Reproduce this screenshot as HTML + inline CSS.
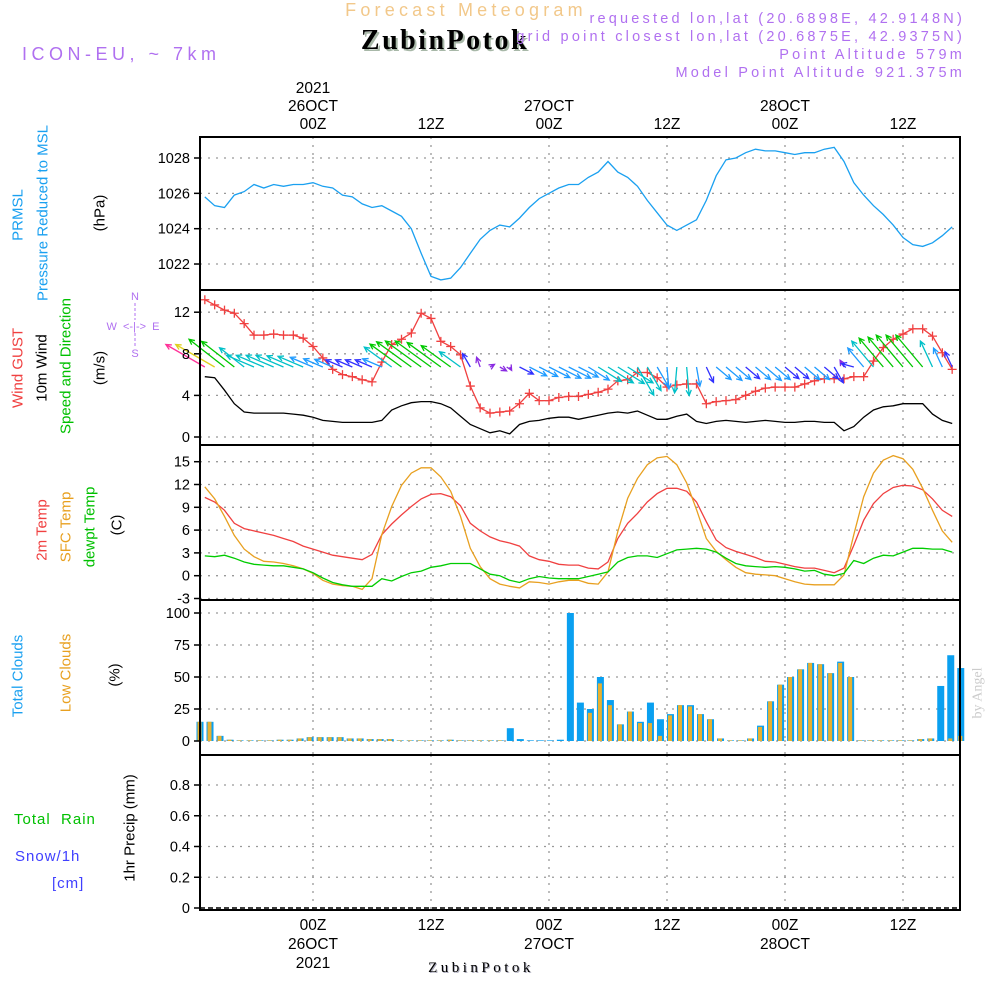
<!DOCTYPE html>
<html><head><meta charset="utf-8">
<style>
html,body{margin:0;padding:0;background:#fff;}
svg{display:block;font-family:"Liberation Sans",sans-serif;}
</style></head>
<body>
<svg id="chart" width="1000" height="1000" viewBox="0 0 1000 1000" xmlns="http://www.w3.org/2000/svg">
<rect x="0" y="0" width="1000" height="1000" fill="#fff"/>
<g>
<text x="466" y="16" text-anchor="middle" font-size="18" fill="#f2c88a" letter-spacing="4.2">Forecast Meteogram</text>
<text x="447" y="51" text-anchor="middle" font-family="Liberation Serif,serif" font-weight="bold" font-size="28" fill="#a8b8a8" letter-spacing="2.5">ZubinPotok</text>
<text x="445" y="49" text-anchor="middle" font-family="Liberation Serif,serif" font-weight="bold" font-size="28" fill="#000" letter-spacing="2.5">ZubinPotok</text>
<text x="22" y="60" font-size="18" fill="#b070f0" letter-spacing="4.5">ICON-EU, ~ 7km</text>
<text x="965" y="23" text-anchor="end" font-size="14.5" fill="#b070f0" letter-spacing="3.2">requested lon,lat (20.6898E, 42.9148N)</text>
<text x="965" y="41" text-anchor="end" font-size="14.5" fill="#b070f0" letter-spacing="3.2">grid point closest lon,lat (20.6875E, 42.9375N)</text>
<text x="965" y="59" text-anchor="end" font-size="14.5" fill="#b070f0" letter-spacing="3.2">Point Altitude 579m</text>
<text x="965" y="77" text-anchor="end" font-size="14.5" fill="#b070f0" letter-spacing="3.2">Model Point Altitude 921.375m</text>
</g>
<g id="grid"></g>
<g id="marks"></g>
<g id="frames"></g>
<g id="labels"></g>
</svg>
<script>
// ---- data (hourly, hour = -11 .. 65 relative to 26OCT 00Z) ----
const hourStart = -11;
const pressure = [1025.8,1025.3,1025.2,1025.9,1026.1,1026.5,1026.3,1026.5,1026.4,1026.5,1026.5,1026.6,1026.4,1026.3,1025.9,1025.8,1025.4,1025.2,1025.3,1025.0,1024.7,1024.0,1022.6,1021.3,1021.1,1021.2,1021.8,1022.6,1023.4,1023.9,1024.2,1024.1,1024.6,1025.2,1025.7,1026.0,1026.3,1026.5,1026.5,1026.9,1027.2,1027.8,1027.2,1026.9,1026.4,1025.6,1024.9,1024.2,1023.9,1024.2,1024.5,1025.6,1027.0,1027.9,1028.0,1028.3,1028.5,1028.4,1028.4,1028.3,1028.2,1028.3,1028.3,1028.5,1028.6,1027.8,1026.6,1025.9,1025.3,1024.8,1024.2,1023.5,1023.1,1023.0,1023.2,1023.6,1024.1];
const gust = [13.2,12.7,12.2,11.9,10.9,9.8,9.8,9.9,9.8,9.8,9.5,8.7,7.6,6.5,6.0,5.8,5.5,5.3,7.2,8.9,9.4,10.0,11.9,11.4,9.2,8.7,7.9,4.9,2.8,2.3,2.4,2.5,3.2,4.2,3.5,3.5,3.8,3.9,3.9,4.1,4.3,4.6,5.4,5.5,6.2,6.2,5.7,4.8,5.0,5.1,5.1,3.2,3.4,3.5,3.6,4.0,4.4,4.7,4.8,4.8,4.8,5.1,5.4,5.6,5.6,5.6,5.8,5.8,7.3,8.6,9.4,9.9,10.4,10.4,9.7,8.1,6.5];
const windSpeed = [5.8,5.7,4.5,3.2,2.4,2.3,2.3,2.3,2.3,2.2,2.1,1.9,1.6,1.5,1.4,1.4,1.4,1.4,1.6,2.6,3.0,3.3,3.4,3.4,3.2,2.8,2.0,1.2,0.8,0.4,0.6,0.3,1.2,1.5,1.6,1.8,1.9,1.9,1.7,1.9,2.1,2.3,2.4,2.3,2.5,2.1,1.7,1.7,2.0,2.2,1.5,1.3,1.5,1.6,1.5,1.4,1.5,1.6,1.5,1.4,1.4,1.5,1.5,1.4,1.4,0.6,1.0,1.9,2.6,2.9,3.0,3.2,3.2,3.2,2.2,1.6,1.3];
const windDir = [300,300,308,308,308,293,293,293,293,293,293,293,293,293,293,293,293,293,293,306,306,306,306,306,306,306,306,330,340,60,120,150,117,117,117,117,117,117,117,122,122,122,122,122,150,150,150,175,185,175,170,155,130,130,130,130,130,130,130,130,130,130,130,130,150,330,285,320,320,320,320,320,320,320,335,335,335];
const temp2m = [10.3,9.7,8.6,6.9,6.2,5.9,5.6,5.3,4.9,4.5,3.9,3.5,3.1,2.7,2.5,2.3,2.1,2.8,5.4,6.8,8.0,9.1,10.1,10.7,10.8,10.4,9.2,6.9,5.9,5.1,4.6,4.3,3.9,2.6,2.1,1.9,1.5,1.4,1.4,1.0,0.9,1.8,4.9,6.9,8.2,9.7,10.8,11.5,11.5,11.1,9.7,7.1,4.7,3.7,3.2,2.8,2.4,1.9,1.8,1.5,1.2,1.0,1.0,0.7,0.4,1.0,4.0,7.3,9.5,10.8,11.6,11.9,11.8,11.3,10.1,8.6,7.8];
const tempSfc = [11.7,10.1,7.8,5.3,3.5,2.5,1.9,1.8,1.6,1.3,0.9,0.3,-0.6,-1.1,-1.3,-1.4,-1.8,-0.4,5.4,9.1,11.9,13.5,14.2,14.2,13.0,11.1,7.8,3.6,1.2,-0.4,-1.1,-1.4,-1.6,-0.8,-0.9,-1.1,-0.8,-0.6,-0.6,-1.0,-1.1,0.5,5.8,10.2,12.8,14.6,15.5,15.7,14.6,12.2,8.7,4.9,3.2,2.1,1.1,0.4,0.2,0.1,0.0,-0.4,-0.8,-1.1,-1.2,-1.2,-1.2,0.1,5.4,10.4,13.5,15.2,15.8,15.4,14.0,11.5,8.6,5.9,4.4];
const tempDew = [2.6,2.5,2.7,2.3,1.8,1.5,1.4,1.3,1.3,1.1,0.9,0.4,-0.3,-0.9,-1.2,-1.4,-1.4,-1.4,-0.4,-0.7,-0.1,0.4,0.6,1.1,1.3,1.6,1.6,1.6,0.9,0.2,0.0,-0.6,-0.9,-0.4,-0.1,-0.3,-0.4,-0.4,-0.4,-0.1,0.2,0.5,1.8,2.4,2.6,2.6,2.4,2.9,3.4,3.5,3.6,3.5,3.1,2.3,1.6,1.3,1.2,1.1,1.2,1.1,0.9,0.6,0.7,0.2,0.0,0.3,2.0,1.6,2.3,2.7,2.6,3.1,3.6,3.6,3.5,3.5,3.1];
const cloudTotal = [15,15,4,1,0.5,0.5,0.5,0.5,1,1,2,3,3,3,3,2,2,1.5,1.5,1.5,0.5,0.5,0.5,0.5,0.5,1,0.5,0.5,0.5,0.5,0.5,10,1.5,0.5,0.5,0.5,1,100,30,25,50,32,13,23,15,30,17,21,28,28,21,17,2,0.5,0.5,2,12,31,44,50,56,61,60,53,62,50,0.5,0.5,0.5,0.5,0.5,0.5,1.5,2,43,67,57];
const cloudLow = [15,15,4,1,0.5,0.5,0.5,0.5,1,1,2,3,3,3,3,2,2,1.5,1.5,1.5,0.5,0.5,0.5,0.5,0.5,1,0.5,0.5,0.5,0.5,0.5,0,0,0,0,0,0,0,0,22,45,28,13,23,14,14,4,20,28,27,21,17,2,0.5,0.5,2,11,31,44,50,56,61,60,53,61,50,0.5,0.5,0.5,0.5,0.5,0.5,1.5,2,0,2,4];
const precip = [];
const pressureTicks = [1022,1024,1026,1028];
const windTicks = [0,4,8,12];
const tempTicks = [-3,0,3,6,9,12,15];
const cloudTicks = [0,25,50,75,100];
const precipTicks = [0,0.2,0.4,0.6,0.8];
const timeTicks = [0,12,24,36,48,60];
const timeLabels = ["00Z","12Z","00Z","12Z","00Z","12Z"];
const dateLabels = ["26OCT","","27OCT","","28OCT",""];

// ---- scales ----
const X0=200, X1=960;
const xH = h => 313 + h*(236/24);
const xBar = i => 200 + i*10.01;
const yP = v => 158 + (1028-v)*17.67;
const yW = v => 437 - v*10.4;
const yT = v => 575.7 - v*7.6;
const yC = v => 741 - v*1.28;
const yR = v => 908 - v*153.75;
const panels = [[137,290],[290,445],[445,600],[600,755],[755,910]];
const NS="http://www.w3.org/2000/svg";
function mk(tag, parent, attrs){ const e=document.createElementNS(NS,tag); for(const k in attrs) e.setAttribute(k,attrs[k]); parent.appendChild(e); return e; }
const gGrid=document.getElementById('grid'), gMarks=document.getElementById('marks'), gFr=document.getElementById('frames'), gLab=document.getElementById('labels');

function hgrid(ticks, fy, name){
  ticks.forEach(t=>{
    const l=mk('line',gGrid,{x1:X0,x2:X1,y1:fy(t),y2:fy(t),stroke:'#999','stroke-width':1.3,'stroke-dasharray':'2 6'});
    
    
    const tk=mk('line',gFr,{x1:194,x2:200,y1:fy(t),y2:fy(t),stroke:'#000','stroke-width':1.5});
    
    
    const tx=mk('text',gLab,{x:190,y:fy(t)+5,'text-anchor':'end','font-size':14.5,fill:'#000'});
    tx.textContent=String(t);
    
    
  });
}
hgrid(pressureTicks,yP,'pressure');
hgrid(windTicks,yW,'wind');
hgrid(tempTicks,yT,'temp');
hgrid(cloudTicks,yC,'cloud');
hgrid(precipTicks,yR,'precip');
timeTicks.forEach(h=>{
  panels.forEach(p=>{
    const l=mk('line',gGrid,{x1:xH(h),x2:xH(h),y1:p[0],y2:p[1],stroke:'#999','stroke-width':1.3,'stroke-dasharray':'2 6'});
    
    
  });
});

function line(arr, fx, fy, color, name, w){
  const pts=arr.map((v,i)=>fx(hourStart+i).toFixed(1)+','+fy(v).toFixed(1)).join(' ');
  const pl=mk('polyline',gMarks,{points:pts,fill:'none',stroke:color,'stroke-width':w||1.3});
  
  
}
line(pressure,xH,yP,'#1aa0f0','pressure-line');
line(windSpeed,xH,yW,'#000','wind-speed-line');
line(gust,xH,yW,'#f04040','wind-gust-line');
gust.forEach((v,i)=>{
  const x=xH(hourStart+i), y=yW(v);
  const m=mk('path',gMarks,{d:`M${x-4.5},${y}H${x+4.5}M${x},${y-4.5}V${y+4.5}`,stroke:'#f04040','stroke-width':1.3});
  
  
});
function wcol(s){ if(s>=5.75) return '#ff3399'; if(s>=5) return '#e0d020'; if(s>=2.8) return '#00c800'; if(s>=2) return '#00c0c8'; if(s>=1.45) return '#1e9bff'; if(s>=1) return '#3030ff'; return '#8a2be2'; }
windDir.forEach((d,i)=>{
  const s=windSpeed[i];
  const len=Math.min(13*s,45);
  const a=d*Math.PI/180;
  const x0=xH(hourStart+i), y0=367;
  const x1=x0+len*Math.sin(a), y1=y0-len*Math.cos(a);
  const hl=6, ha=0.45;
  const b=Math.atan2(y1-y0,x1-x0);
  const p1=[x1-hl*Math.cos(b-ha), y1-hl*Math.sin(b-ha)], p2=[x1-hl*Math.cos(b+ha), y1-hl*Math.sin(b+ha)];
  const c=wcol(s);
  const ar=mk('path',gMarks,{d:`M${x0},${y0}L${x1},${y1}M${p1[0]},${p1[1]}L${x1},${y1}L${p2[0]},${p2[1]}`,stroke:c,'stroke-width':1.3,fill:'none'});
  
  
});
line(temp2m,xH,yT,'#f04040','temp-2m-line');
line(tempSfc,xH,yT,'#e8a020','temp-sfc-line');
line(tempDew,xH,yT,'#00cc00','dewpoint-line');
cloudTotal.forEach((v,i)=>{
  const x=xBar(i);
  const r=mk('rect',gMarks,{x:x-3.5,y:yC(v),width:7,height:yC(0)-yC(v),fill:'#0aa0f0'});
  
  
});
cloudLow.forEach((v,i)=>{
  const x=xBar(i);
  const r=mk('rect',gMarks,{x:x-2.5,y:yC(v),width:4,height:yC(0)-yC(v),fill:'#e8b030'});
  
  
});
const zl=mk('line',gMarks,{x1:X0,x2:X1,y1:yR(0),y2:yR(0),stroke:'#000','stroke-width':1.5,'stroke-dasharray':'5 3'});



panels.forEach(p=>{
  const r=mk('rect',gFr,{x:X0,y:p[0],width:X1-X0,height:p[1]-p[0],fill:'none',stroke:'#000','stroke-width':2});
  
  
});
timeTicks.forEach((h,i)=>{
  const x=xH(h);
  const t1=mk('text',gLab,{x:x,y:129,'text-anchor':'middle','font-size':15.5});
  t1.textContent=timeLabels[i];
  
  
  const t2=mk('text',gLab,{x:x,y:930,'text-anchor':'middle','font-size':15.5});
  t2.textContent=timeLabels[i];
  
  
  if(dateLabels[i]){
    const d1=mk('text',gLab,{x:x,y:111,'text-anchor':'middle','font-size':15.5});
    d1.textContent=dateLabels[i];
    
    
    const d2=mk('text',gLab,{x:x,y:949,'text-anchor':'middle','font-size':15.5});
    d2.textContent=dateLabels[i];
    
    
  }
});
</script>
<svg style="position:absolute;left:0;top:0" width="1000" height="1000" font-family="Liberation Sans,sans-serif">
<text x="313" y="93" text-anchor="middle" font-size="15.5">2021</text>
<text x="313" y="968" text-anchor="middle" font-size="15.5">2021</text>
<text x="482" y="973" text-anchor="middle" font-family="Liberation Serif,serif" font-size="15" fill="#aab" letter-spacing="3.5">ZubinPotok</text>
<text x="481" y="972" text-anchor="middle" font-family="Liberation Serif,serif" font-size="15" fill="#000" letter-spacing="3.5">ZubinPotok</text>
<g font-size="15" text-anchor="middle" dominant-baseline="central">
<text transform="translate(18,215) rotate(-90)" fill="#1aa0f0">PRMSL</text>
<text transform="translate(43,213) rotate(-90)" fill="#1aa0f0">Pressure Reduced to MSL</text>
<text transform="translate(100,213) rotate(-90)" fill="#000">(hPa)</text>
<text transform="translate(18,368) rotate(-90)" fill="#f04040">Wind GUST</text>
<text transform="translate(42,368) rotate(-90)" fill="#000">10m Wind</text>
<text transform="translate(66,366) rotate(-90)" fill="#00c000">Speed and Direction</text>
<text transform="translate(100,368) rotate(-90)" fill="#000">(m/s)</text>
<text transform="translate(42,530) rotate(-90)" fill="#f04040">2m Temp</text>
<text transform="translate(66,527) rotate(-90)" fill="#e8a020">SFC Temp</text>
<text transform="translate(90,527) rotate(-90)" fill="#00c000">dewpt Temp</text>
<text transform="translate(117,525) rotate(-90)" fill="#000">(C)</text>
<text transform="translate(18,676) rotate(-90)" fill="#1aa0f0">Total Clouds</text>
<text transform="translate(66,673) rotate(-90)" fill="#e8a020">Low Clouds</text>
<text transform="translate(115,675) rotate(-90)" fill="#000">(%)</text>
<text transform="translate(130,828) rotate(-90)" fill="#000">1hr Precip (mm)</text>
<text transform="translate(978,693) rotate(-90)" fill="#ccc" font-family="Liberation Serif,serif" font-size="14">by Angel</text>
</g>
<text x="14" y="824" font-size="15" fill="#00c000" letter-spacing="1" xml:space="preserve">Total  Rain</text>
<text x="15" y="861" font-size="15" fill="#4040ff" letter-spacing="1">Snow/1h</text>
<text x="52" y="888" font-size="15" fill="#4040ff" letter-spacing="1">[cm]</text>
<g fill="#b070f0" font-size="11" text-anchor="middle">
<text x="135" y="300">N</text>
<text x="133" y="330" xml:space="preserve">W  &lt;-|-&gt;  E</text>
<text x="135" y="357">S</text>
<line x1="135" y1="303" x2="135" y2="320" stroke="#b070f0" stroke-dasharray="3 2"/>
<line x1="135" y1="333" x2="135" y2="348" stroke="#b070f0" stroke-dasharray="3 2"/>
</g>
</svg>
</body></html>
